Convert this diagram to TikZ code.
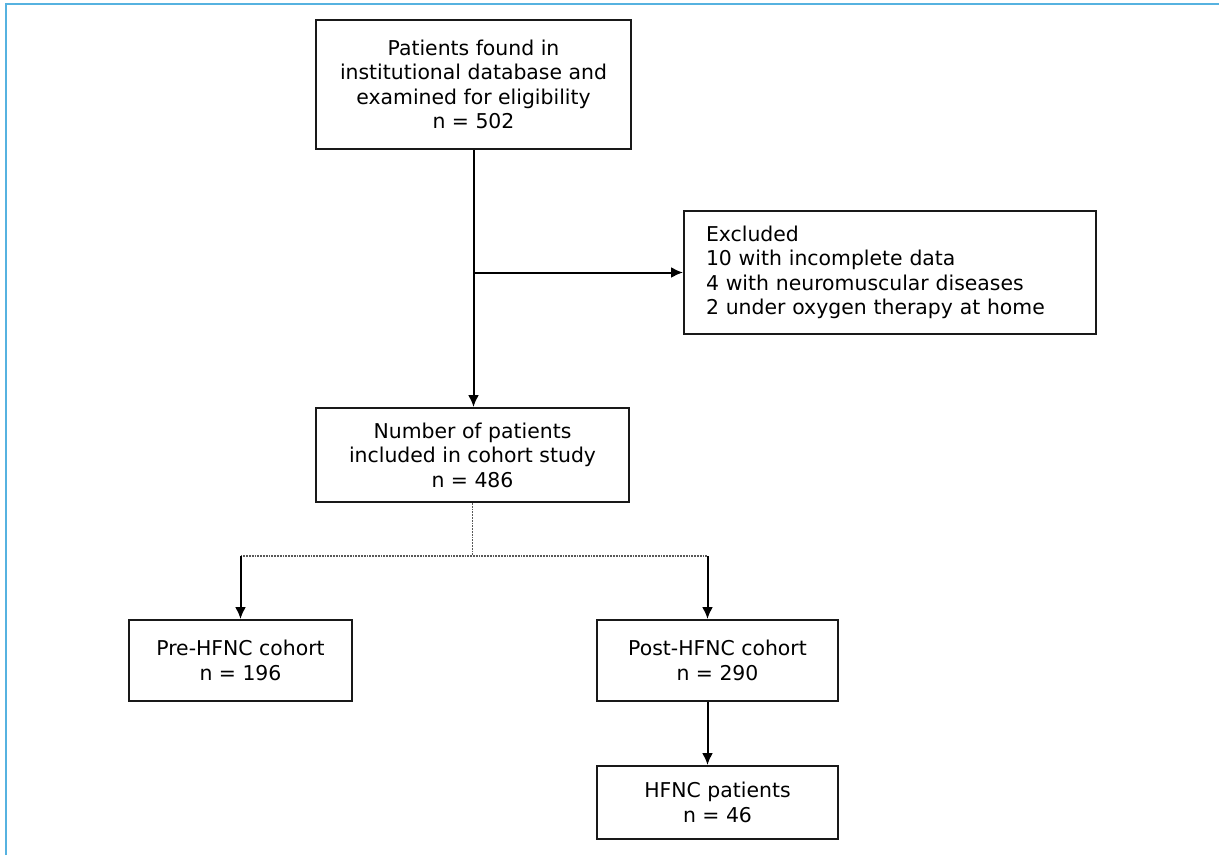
\documentclass[tikz,border=0pt]{standalone}
\usepackage{fontspec}
\setmainfont{DejaVu Sans}
\usetikzlibrary{arrows.meta}
\definecolor{frameblue}{RGB}{86,178,224}
\begin{document}
\begin{tikzpicture}[x=1pt,y=-1pt,
  box/.style={draw=black!90,line width=2pt,fill=white,align=center,inner sep=0pt,
    font=\fontsize{20.4}{24.5}\selectfont},
  arr/.style={draw=black,line width=2pt,-{Latex[length=12pt,width=11pt]}},
  branch/.style={draw=black!65,line width=1.8pt,densely dotted}]
\useasboundingbox (0,0) rectangle (1219,855);
\draw[frameblue,line width=2.8pt] (6,855) -- (6,4) -- (1219,4);

\node[box,minimum width=315pt,minimum height=129pt] (elig) at (473.5,84.5)
  {Patients found in\\institutional database and\\examined for eligibility\\n = 502};
\node[box,align=left,text width=368pt,minimum width=412pt,minimum height=123pt] (excl) at (890,272.5)
  {Excluded\\10 with incomplete data\\4 with neuromuscular diseases\\2 under oxygen therapy at home};
\node[box,minimum width=313pt,minimum height=94pt] (incl) at (472.5,455)
  {Number of patients\\included in cohort study\\n = 486};
\node[box,minimum width=223pt,minimum height=81pt] (pre) at (240.5,660.5)
  {Pre-HFNC cohort\\n = 196};
\node[box,minimum width=241pt,minimum height=81pt] (post) at (717.5,660.5)
  {Post-HFNC cohort\\n = 290};
\node[box,minimum width=241pt,minimum height=73pt] (hfnc) at (717.5,802.5)
  {HFNC patients\\n = 46};

\draw[arr] (elig.south) -- (elig.south |- incl.north);
\draw[arr] (elig.south |- excl.west) -- (excl.west);

\path (incl.south) ++(0,53) coordinate (split);
\coordinate (postin) at ([xshift=-10pt]post.north);
\coordinate (pl) at (split -| pre.north);
\coordinate (pr) at (split -| postin);
\draw[branch] (incl.south) -- (split);
\draw[branch] (pl) -- (pr);
\draw[arr] (pl) -- (pre.north);
\draw[arr] (pr) -- (postin);
\draw[arr] ([xshift=-10pt]post.south) -- ([xshift=-10pt]hfnc.north);
\end{tikzpicture}
\end{document}
